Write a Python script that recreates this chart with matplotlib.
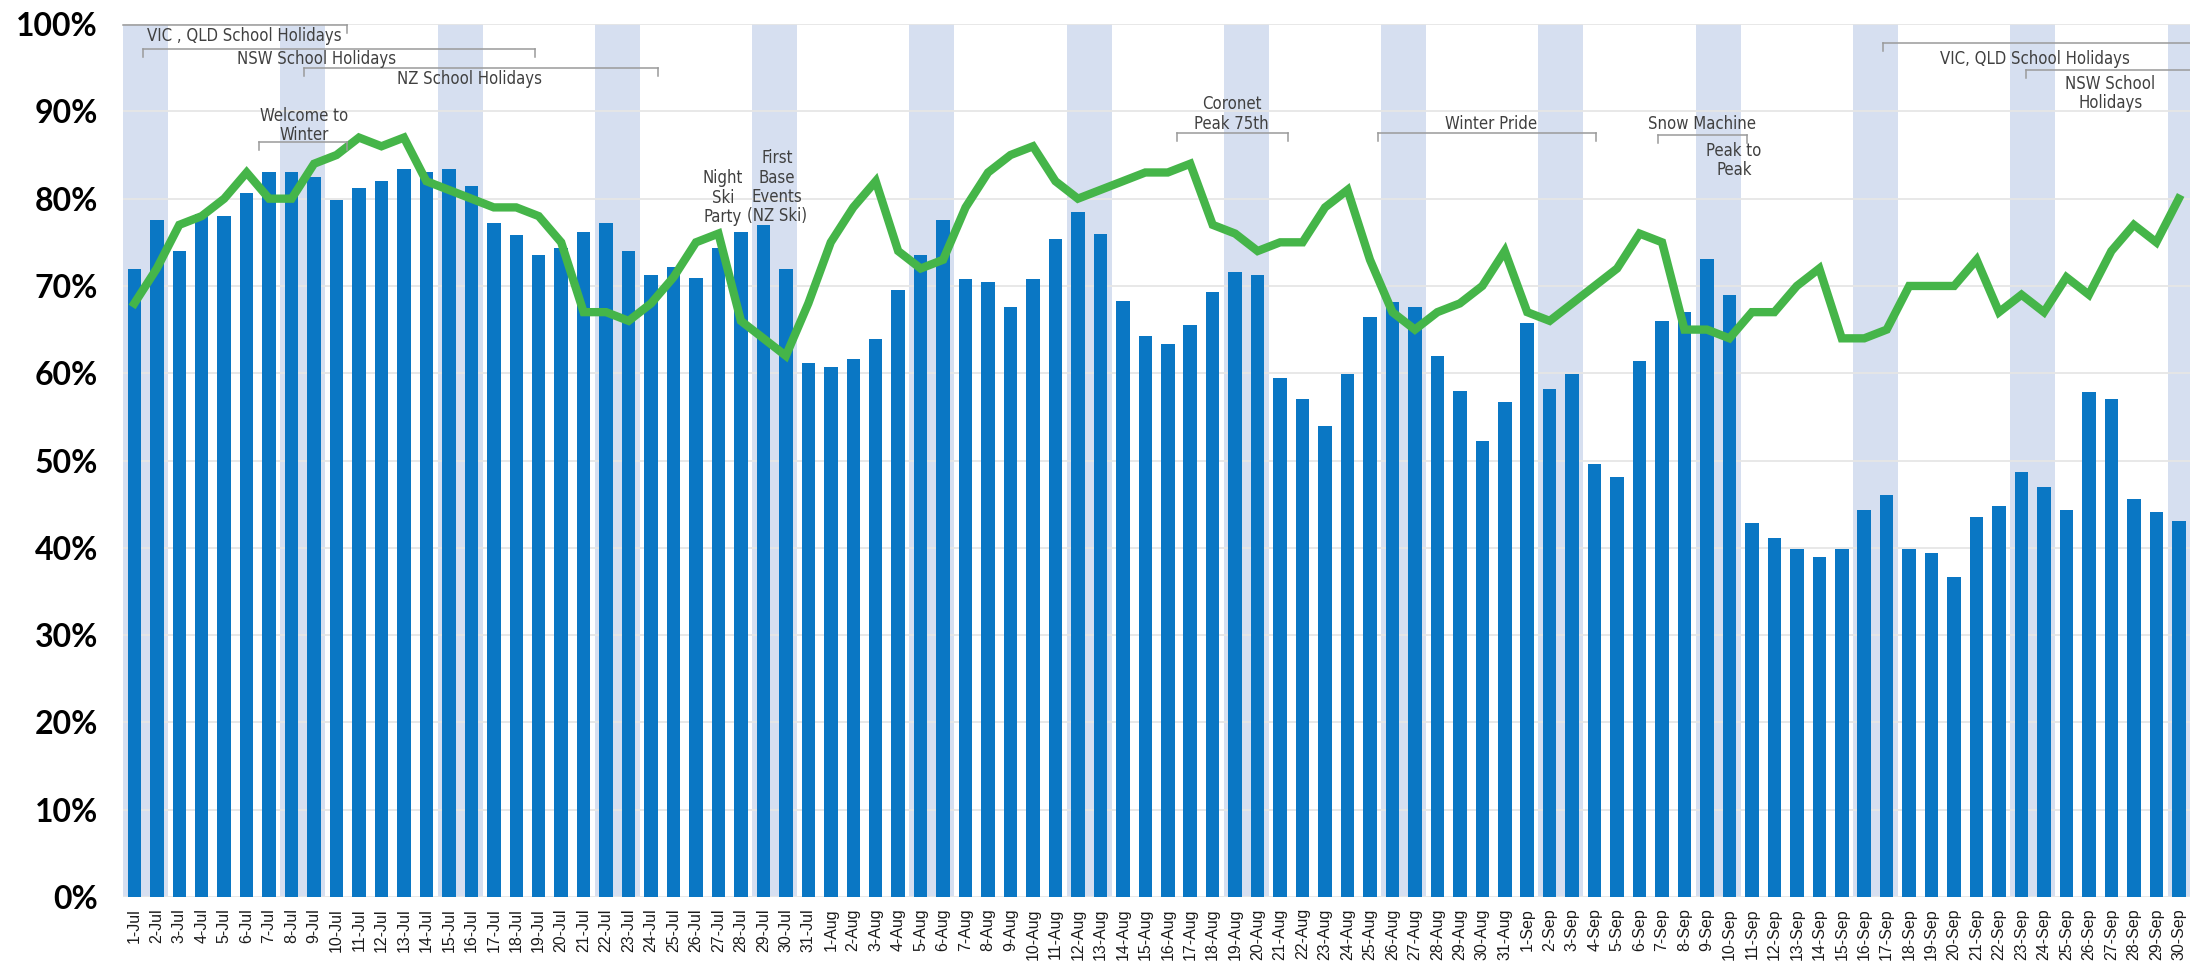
import numpy as np
import matplotlib
matplotlib.use("Agg")
import matplotlib.pyplot as plt
from matplotlib.ticker import FuncFormatter

# days of the season, Jul-Sep
months = [("Jul", 31), ("Aug", 31), ("Sep", 30)]
days = [f"{d}-{m}" for m, n in months for d in range(1, n + 1)]

# occupancy bars (%)
occupancy = [
    72.0, 77.5, 74.0, 78.3, 78.0, 80.7, 83.0, 83.0, 82.5, 79.8,
    81.2, 82.0, 83.4, 83.0, 83.4, 81.5, 77.2, 75.8, 73.5, 74.3,
    76.2, 77.2, 74.0, 71.3, 72.2, 70.9, 74.3, 76.2, 77.0, 72.0,
    61.2, 60.7, 61.6, 63.9, 69.5, 73.6, 77.6, 70.8, 70.4, 67.6,
    70.8, 75.4, 78.5, 76.0, 68.3, 64.3, 63.3, 65.5, 69.3, 71.6,
    71.2, 59.4, 57.0, 54.0, 59.9, 66.5, 68.2, 67.6, 62.0, 58.0,
    52.2, 56.7, 65.8, 58.2, 59.9, 49.6, 48.1, 61.4, 66.0, 67.0,
    73.1, 69.0, 42.8, 41.1, 39.9, 39.0, 39.9, 44.3, 46.0, 39.9,
    39.4, 36.7, 43.5, 44.8, 48.7, 47.0, 44.3, 57.8, 57.0, 45.6,
    44.1, 43.1,
]

# comparison line (%)
last_year = [
    68, 72, 77, 78, 80, 83, 80, 80, 84, 85,
    87, 86, 87, 82, 81, 80, 79, 79, 78, 75,
    67, 67, 66, 68, 71, 75, 76, 66, 64, 62,
    68, 75, 79, 82, 74, 72, 73, 79, 83, 85,
    86, 82, 80, 81, 82, 83, 83, 84, 77, 76,
    74, 75, 75, 79, 81, 73, 67, 65, 67, 68,
    70, 74, 67, 66, 68, 70, 72, 76, 75, 65,
    65, 64, 67, 67, 70, 72, 64, 64, 65, 70,
    70, 70, 73, 67, 69, 67, 71, 69, 74, 77,
    75, 80,
]

# weekends start on these day indexes (1-Jul was a Saturday)
weekend_starts = list(range(0, len(days), 7))

# bracket annotations: (x_start, x_end, y, tick_left, tick_right)
brackets = [
    (-0.5, 9.45, 99.9, False, True),
    (0.4, 17.85, 97.1, True, True),
    (7.55, 23.3, 95.0, True, True),
    (5.55, 9.45, 86.5, True, True),
    (46.4, 51.35, 87.5, True, True),
    (55.35, 65.05, 87.5, True, True),
    (67.8, 71.8, 87.3, True, True),
    (77.85, 91.5, 97.8, True, False),
    (84.2, 91.5, 94.7, True, False),
]

# text annotations: (x, y, text)
notes = [
    (4.9, 98.6, "VIC , QLD School Holidays"),
    (8.1, 95.95, "NSW School Holidays"),
    (14.9, 93.7, "NZ School Holidays"),
    (7.55, 88.4, "Welcome to\nWinter"),
    (26.2, 80.1, "Night\nSki\nParty"),
    (28.6, 81.3, "First\nBase\nEvents\n(NZ Ski)"),
    (48.85, 89.7, "Coronet\nPeak 75th"),
    (60.4, 88.5, "Winter Pride"),
    (69.8, 88.6, "Snow Machine"),
    (71.2, 84.4, "Peak to\nPeak"),
    (84.6, 96.0, "VIC, QLD School Holidays"),
    (87.95, 92.05, "NSW School\nHolidays"),
]

x = np.arange(len(days))

fig = plt.figure(figsize=(21.9, 9.63), dpi=100)
ax = fig.add_axes([0.0562, 0.0685, 0.9438, 0.9065])

for s in weekend_starts:
    ax.axvspan(s - 0.5, s + 1.5, color="#d6dff0", zorder=0, lw=0)

ax.bar(x, occupancy, width=0.6, color="#0a77c4", zorder=2)
ax.plot(x, last_year, color="#45b549", lw=6, zorder=3, solid_joinstyle="miter")

tick_len = 0.9
for x0, x1, y, tl, tr in brackets:
    ax.plot([x0, x1], [y, y], color="#9a9a9a", lw=1.1, zorder=4, clip_on=False)
    if tl:
        ax.plot([x0, x0], [y, y - tick_len], color="#9a9a9a", lw=1.1, zorder=4)
    if tr:
        ax.plot([x1, x1], [y, y - tick_len], color="#9a9a9a", lw=1.1, zorder=4)

for tx, ty, txt in notes:
    ax.text(tx, ty, txt, ha="center", va="center", fontsize=12,
            color="#404040", linespacing=1.1, zorder=5,
            family="DejaVu Sans", fontstretch="condensed")

ax.set_xlim(-0.5, len(days) - 0.5)
ax.set_ylim(0, 100)
ax.set_yticks(np.arange(0, 101, 10))
ax.yaxis.set_major_formatter(FuncFormatter(lambda v, p: f"{int(v)}%"))
ax.set_xticks(x)
ax.set_xticklabels(days, rotation=90, fontsize=11.5, color="#1a1a1a",
                   family="Liberation Sans")
for lab in ax.get_yticklabels():
    lab.set_fontsize(23)
    lab.set_fontweight("bold")
    lab.set_family("Lato")
ax.tick_params(axis="y", length=0, pad=18)
ax.tick_params(axis="x", length=0, pad=8)
ax.grid(axis="y", color="#e6e6e6", lw=1.3, zorder=1)
ax.set_axisbelow(True)
for sp in ax.spines.values():
    sp.set_visible(False)

fig.savefig("out.png", dpi=100)
